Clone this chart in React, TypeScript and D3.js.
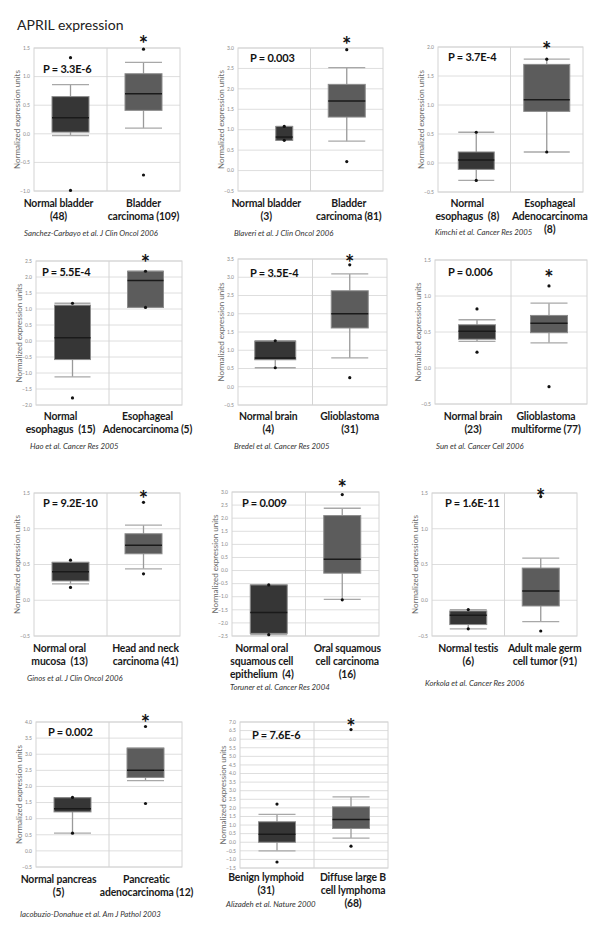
import React from 'react';
import * as d3 from 'd3';

const title = 'APRIL expression';
const yAxisTitle = 'Normalized expression units';

const pValues = ['P = 3.3E-6', 'P = 0.003', 'P = 3.7E-4', 'P = 5.5E-4', 'P = 3.5E-4', 'P = 0.006', 'P = 9.2E-10', 'P = 0.009', 'P = 1.6E-11', 'P = 0.002', 'P = 7.6E-6'];

const yDomains: [number, number][] = [[-1, 1.5], [-0.5, 3], [-0.5, 2], [-2, 2.5], [-0.5, 3.5], [-0.5, 1.5], [-0.5, 1.5], [-2.5, 3], [-0.5, 1.5], [-0.5, 4], [-1.5, 7]];

// [lower whisker, Q1, median, Q3, upper whisker]
const normalStats: number[][] = [
  [-0.03, 0.03, 0.28, 0.65, 0.86],
  [0.74, 0.74, 0.82, 1.08, 1.08],
  [-0.30, -0.11, 0.05, 0.19, 0.53],
  [-1.12, -0.58, 0.10, 1.12, 1.18],
  [0.52, 0.74, 0.79, 1.25, 1.26],
  [0.37, 0.40, 0.51, 0.60, 0.67],
  [0.23, 0.27, 0.40, 0.53, 0.53],
  [-2.45, -2.40, -1.60, -0.55, -0.55],
  [-0.40, -0.34, -0.21, -0.15, -0.13],
  [0.55, 1.21, 1.31, 1.65, 1.65],
  [-0.50, 0.00, 0.47, 1.19, 1.62],
];
const tumorStats: number[][] = [
  [0.10, 0.41, 0.70, 1.05, 1.25],
  [0.72, 1.31, 1.70, 2.11, 2.52],
  [0.19, 0.89, 1.09, 1.70, 1.79],
  [1.05, 1.05, 1.89, 2.18, 2.18],
  [0.79, 1.61, 2.00, 2.63, 3.09],
  [0.35, 0.49, 0.62, 0.73, 0.90],
  [0.44, 0.65, 0.77, 0.93, 1.05],
  [-1.10, -0.10, 0.43, 2.10, 2.38],
  [-0.30, -0.08, 0.13, 0.45, 0.59],
  [2.18, 2.28, 2.50, 3.19, 3.19],
  [0.24, 0.80, 1.33, 2.06, 2.64],
];
const normalPoints: number[][] = [
  [1.33, -0.99], [1.08, 0.74], [0.53, -0.30], [1.18, -1.78], [1.26, 0.52], [0.82, 0.22],
  [0.56, 0.18], [-0.55, -2.45], [-0.13, -0.40], [1.66, 0.55], [2.22, -1.15],
];
const tumorPoints: number[][] = [
  [1.48, -0.72], [2.96, 0.22], [1.79, 0.19], [2.18, 1.05], [3.34, 0.25], [1.14, -0.26],
  [1.37, 0.37], [2.90, -1.12], [1.45, -0.43], [3.86, 1.47], [6.56, -0.23],
];

const normalLabels: string[][] = [
  ['Normal bladder', '(48)'], ['Normal bladder', '(3)'], ['Normal', 'esophagus  (8)'],
  ['Normal', 'esophagus  (15)'], ['Normal brain', '(4)'], ['Normal brain', '(23)'],
  ['Normal oral', 'mucosa  (13)'], ['Normal oral', 'squamous cell', 'epithelium  (4)'], ['Normal testis', '(6)'],
  ['Normal pancreas', '(5)'], ['Benign lymphoid', '(31)'],
];
const tumorLabels: string[][] = [
  ['Bladder', 'carcinoma (109)'], ['Bladder', 'carcinoma (81)'], ['Esophageal', 'Adenocarcinoma', '(8)'],
  ['Esophageal', 'Adenocarcinoma (5)'], ['Glioblastoma', '(31)'], ['Glioblastoma', 'multiforme (77)'],
  ['Head and neck', 'carcinoma (41)'], ['Oral squamous', 'cell carcinoma', '(16)'], ['Adult male germ', 'cell tumor (91)'],
  ['Pancreatic', 'adenocarcinoma (12)'], ['Diffuse large B', 'cell lymphoma', '(68)'],
];
const citations = [
  'Sanchez-Carbayo et al. J Clin Oncol 2006', 'Blaveri et al. J Clin Oncol 2006', 'Kimchi et al. Cancer Res 2005',
  'Hao et al. Cancer Res 2005', 'Bredel et al. Cancer Res 2005', 'Sun et al. Cancer Cell 2006',
  'Ginos et al. J Clin Oncol 2006', 'Toruner et al. Cancer Res 2004', 'Korkola et al. Cancer Res 2006',
  'Iacobuzio-Donahue et al. Am J Pathol 2003', 'Alizadeh et al. Nature 2000',
];

// layout (positions / styling only)
const layout = [
  { left: 34, width: 146, top: 48, height: 143, pX: 43, pY: 73, starY: 39, labY: 207, citeX: 24, citeY: 236, dx: [-12, 0], bw: [37, 37], sh: [0, 0] },
  { left: 238, width: 145, top: 48, height: 143, pX: 250, pY: 62, starY: 40, labY: 207, citeX: 234, citeY: 236, dx: [-18, 2], bw: [17, 37], sh: [10, 0] },
  { left: 438, width: 145, top: 47, height: 145, pX: 448, pY: 61, starY: 45, labY: 207, citeX: 435, citeY: 235, dx: [-9, 3], bw: [36, 46], sh: [2, 0] },
  { left: 36, width: 146, top: 261, height: 144, pX: 42, pY: 276, starY: 258, labY: 420, citeX: 30, citeY: 449, dx: [-12, 2], bw: [36, 36], sh: [0, 0] },
  { left: 238, width: 149, top: 259, height: 146, pX: 250, pY: 277, starY: 258, labY: 420, citeX: 234, citeY: 449, dx: [-7, 0], bw: [41, 37], sh: [0, 0] },
  { left: 435, width: 152, top: 260, height: 144, pX: 448, pY: 276, starY: 273, labY: 420, citeX: 436, citeY: 449, dx: [-4, -3], bw: [37, 37], sh: [4, 0] },
  { left: 34, width: 146, top: 493, height: 143, pX: 43, pY: 507, starY: 494, labY: 652, citeX: 27, citeY: 681, dx: [-11, 2], bw: [37, 37], sh: [0, 0] },
  { left: 232, width: 147, top: 492, height: 144, pX: 242, pY: 507, starY: 483, labY: 652, citeX: 230, citeY: 690, dx: [-7, 5], bw: [37, 37], sh: [0, 0] },
  { left: 432, width: 145, top: 493, height: 143, pX: 445, pY: 507, starY: 492, labY: 652, citeX: 425, citeY: 686, dx: [0, 4], bw: [37, 37], sh: [0, 0] },
  { left: 36, width: 146, top: 722, height: 145, pX: 48, pY: 736, starY: 718, labY: 883, citeX: 20, citeY: 917, dx: [-14, 1], bw: [37, 37], sh: [0, 0] },
  { left: 240, width: 148, top: 722, height: 146, pX: 252, pY: 739, starY: 722, labY: 881, citeX: 226, citeY: 907, dx: [-11, 2], bw: [37, 37], sh: [0, 0] },
];

const FONT = 'Lato, "Open Sans", sans-serif';
const fmt = d3.format('.1f');
const groupFill = ['#363636', '#5c5c5c'];

function Panel({ i }: { i: number }) {
  const L = layout[i];
  const dom = yDomains[i];
  const y = d3.scaleLinear().domain(dom).range([L.top + L.height, L.top]);
  const x = d3.scaleBand<string>().domain(['normal', 'tumor']).range([L.left, L.left + L.width]);
  const nTicks = Math.round((dom[1] - dom[0]) / 0.5);
  const ticks = d3.range(0, nTicks + 1).map((k) => dom[0] + k * 0.5);
  const groups = [
    { key: 'normal', stats: normalStats[i], pts: normalPoints[i], labels: normalLabels[i] },
    { key: 'tumor', stats: tumorStats[i], pts: tumorPoints[i], labels: tumorLabels[i] },
  ];
  const bottom = L.top + L.height;
  return (
    <g>
      {ticks.map((t) => (
        <g key={t}>
          <line x1={L.left} x2={L.left + L.width} y1={y(t)} y2={y(t)} stroke="#dedede" strokeWidth={1} />
          <text x={L.left - 4} y={y(t)} dy="0.35em" textAnchor="end" fontSize={5} fill="#8a8a8a" fontFamily={FONT}>
            {fmt(t)}
          </text>
        </g>
      ))}
      <rect x={L.left} y={L.top} width={L.width} height={L.height} fill="none" stroke="#d4d4d4" strokeWidth={1} />
      <line x1={L.left + L.width / 2} x2={L.left + L.width / 2} y1={L.top} y2={bottom} stroke="#d4d4d4" strokeWidth={1} />
      <text
        transform={`translate(${L.left - 17},${L.top + L.height / 2}) rotate(-90)`}
        textAnchor="middle"
        dy="0.35em"
        fontSize={8}
        fill="#6a6a6a"
        fontFamily={FONT}
      >
        {yAxisTitle}
      </text>
      {groups.map((g, gi) => {
        const bandCx = (x(g.key) as number) + x.bandwidth() / 2;
        const cx = bandCx + L.sh[gi];
        const w = L.bw[gi];
        const [lo, q1, med, q3, hi] = g.stats;
        return (
          <g key={g.key}>
            <line x1={cx} x2={cx} y1={y(hi)} y2={y(q3)} stroke="#9a9a9a" strokeWidth={1.3} />
            <line x1={cx} x2={cx} y1={y(q1)} y2={y(lo)} stroke="#9a9a9a" strokeWidth={1.3} />
            <line x1={cx - w / 2} x2={cx + w / 2} y1={y(hi)} y2={y(hi)} stroke="#a8a8a8" strokeWidth={1.3} />
            <line x1={cx - w / 2} x2={cx + w / 2} y1={y(lo)} y2={y(lo)} stroke="#a8a8a8" strokeWidth={1.3} />
            <rect x={cx - w / 2} y={y(q3)} width={w} height={Math.max(1, y(q1) - y(q3))} fill={groupFill[gi]} stroke="#8c8c8c" strokeWidth={1} />
            <line x1={cx - w / 2} x2={cx + w / 2} y1={y(med)} y2={y(med)} stroke="#1a1a1a" strokeWidth={1.5} />
            {g.pts.map((p, pi) => (
              <circle key={pi} cx={cx} cy={y(p)} r={1.6} fill="#111" />
            ))}
            {g.labels.map((lab, li) => (
              <text
                key={li}
                x={cx + L.dx[gi]}
                y={L.labY + li * 13}
                textAnchor="middle"
                fontSize={10.4}
                fontWeight="bold"
                letterSpacing={-0.15}
                fill="#1a1a1a"
                fontFamily={FONT}
                style={{ whiteSpace: 'pre' }}
              >
                {lab}
              </text>
            ))}
            {gi === 1 && (
              <text x={cx} y={L.starY + 13} textAnchor="middle" fontSize={22} fontWeight="bold" fill="#111" fontFamily={FONT}>
                *
              </text>
            )}
          </g>
        );
      })}
      <text x={L.pX} y={L.pY} fontSize={11} fontWeight="bold" letterSpacing={-0.2} fill="#111" fontFamily={FONT}>
        {pValues[i]}
      </text>
      <text x={L.citeX} y={L.citeY} fontSize={7.8} fontStyle="italic" fill="#333" fontFamily={FONT}>
        {citations[i]}
      </text>
    </g>
  );
}

export default function App() {
  return (
    <svg width={600} height={930} style={{ position: 'absolute', left: 0, top: 0, background: '#fff' }}>
      <rect width={600} height={930} fill="#fff" />
      <text x={17} y={30} fontSize={14} fill="#222" fontFamily={FONT}>
        {title}
      </text>
      {layout.map((_, i) => (
        <Panel key={i} i={i} />
      ))}
    </svg>
  );
}
